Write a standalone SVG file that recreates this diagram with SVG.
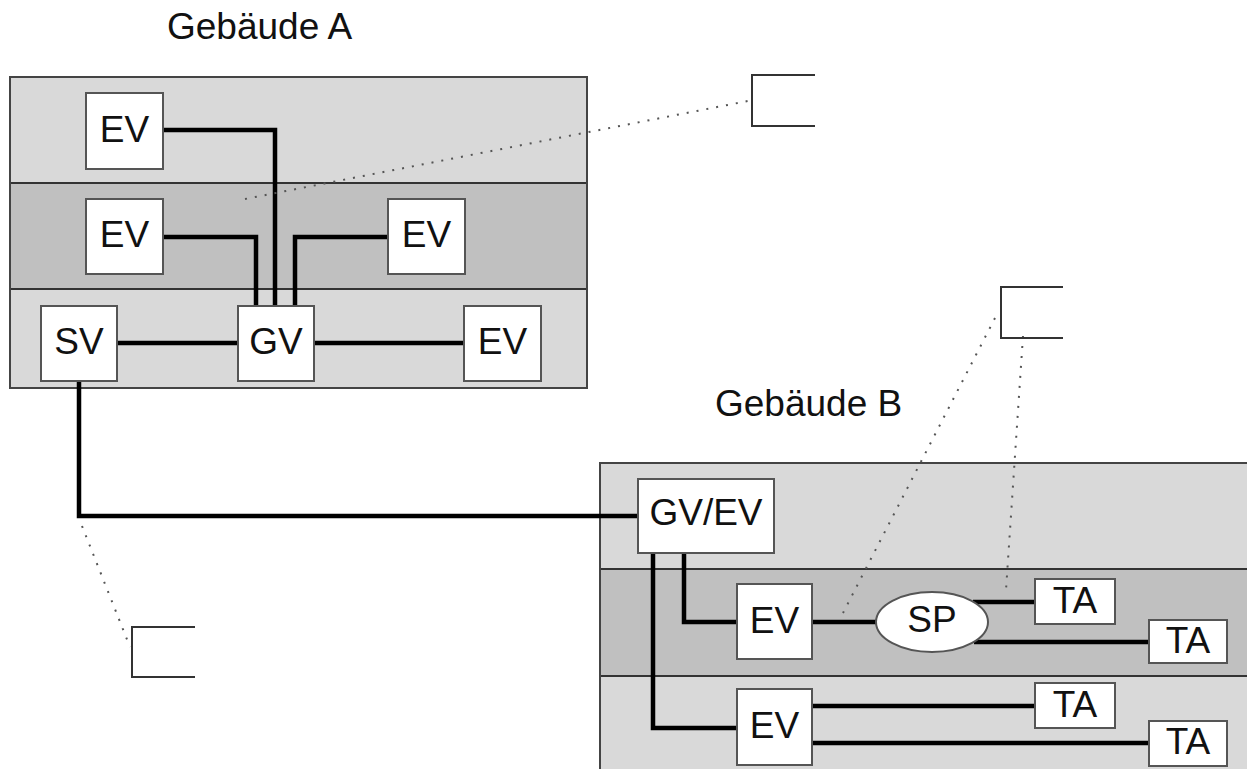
<svg xmlns="http://www.w3.org/2000/svg" width="1248" height="769" viewBox="0 0 1248 769">
<style>
.bl{fill:#d9d9d9;stroke:none}
.bd{fill:#c0c0c0;stroke:none}
.frame{fill:none;stroke:#444;stroke-width:2}
.sep{stroke:#333;stroke-width:2}
.node rect,.node ellipse{fill:#fff;stroke:#555;stroke-width:2}
.node text,.title{font-family:"Liberation Sans",Arial,sans-serif;font-size:37px;fill:#111;text-anchor:middle}
.title{text-anchor:start}
.wire{fill:none;stroke:#000;stroke-width:4.5;stroke-linejoin:miter}
.dot{fill:none;stroke:#555;stroke-width:2;stroke-dasharray:2 8}
.brk{fill:none;stroke:#333;stroke-width:2}
</style>
<rect width="1248" height="769" fill="#fff"/>
<g id="building-a">
<rect class="bl" x="10" y="77" width="577" height="106"/>
<rect class="bd" x="10" y="183" width="577" height="106"/>
<rect class="bl" x="10" y="289" width="577" height="99"/>
<line class="sep" x1="10" y1="183" x2="587" y2="183"/>
<line class="sep" x1="10" y1="289" x2="587" y2="289"/>
<rect class="frame" x="10" y="77" width="577" height="311"/>
<text class="title" x="167" y="39">Gebäude A</text>
</g>
<g id="building-b">
<rect class="bl" x="600" y="463" width="647" height="106"/>
<rect class="bd" x="600" y="569" width="647" height="107"/>
<rect class="bl" x="600" y="676" width="647" height="93"/>
<line class="sep" x1="600" y1="569" x2="1247" y2="569"/>
<line class="sep" x1="600" y1="676" x2="1247" y2="676"/>
<path class="frame" d="M600 770 V463 H1247"/>
<text class="title" x="715" y="416">Gebäude B</text>
</g>
<g id="connectors">
<path class="wire" d="M163 130 H275 V306"/>
<path class="wire" d="M163 237 H256 V306"/>
<path class="wire" d="M388 237 H295 V306"/>
<path class="wire" d="M117 343 H238"/>
<path class="wire" d="M314 343 H464"/>
<path class="wire" d="M79 381 V516 H638"/>
<path class="wire" d="M684 553 V622 H737"/>
<path class="wire" d="M653 553 V728 H737"/>
<path class="wire" d="M812 622 H876"/>
<path class="wire" d="M973 602 H1035"/>
<path class="wire" d="M974 642 H1149"/>
<path class="wire" d="M812 706 H1035"/>
<path class="wire" d="M812 743 H1149"/>
<path class="dot" d="M245 199 L748 101"/>
<path class="dot" d="M82 526 L130 647"/>
<path class="dot" d="M995 318 L843 613"/>
<path class="dot" d="M1023 336 L1006 590"/>
</g>
<g id="brackets">
<path class="brk" d="M815 75 H752 V126 H815"/>
<path class="brk" d="M1063 287 H1001 V338 H1063"/>
<path class="brk" d="M195 627 H132 V677 H195"/>
</g>
<g id="ev-a1" class="node"><rect x="86" y="93" width="77" height="76"/><text x="124.5" y="142">EV</text></g>
<g id="ev-a2" class="node"><rect x="86" y="199" width="77" height="75"/><text x="124.5" y="247">EV</text></g>
<g id="ev-a3" class="node"><rect x="388" y="199" width="77" height="75"/><text x="426.5" y="247">EV</text></g>
<g id="sv" class="node"><rect x="41" y="306" width="76" height="75"/><text x="79" y="354">SV</text></g>
<g id="gv" class="node"><rect x="238" y="306" width="76" height="75"/><text x="276" y="354">GV</text></g>
<g id="ev-a4" class="node"><rect x="464" y="306" width="77" height="75"/><text x="502.5" y="354">EV</text></g>
<g id="gv-ev" class="node"><rect x="638" y="479" width="136" height="74"/><text x="706" y="525">GV/EV</text></g>
<g id="ev-b1" class="node"><rect x="737" y="584" width="75" height="75"/><text x="774.5" y="633">EV</text></g>
<g id="ev-b2" class="node"><rect x="737" y="689" width="75" height="76"/><text x="774.5" y="738">EV</text></g>
<g id="sp" class="node"><ellipse cx="932" cy="622" rx="56" ry="30"/><text x="932" y="632">SP</text></g>
<g id="ta1" class="node"><rect x="1035" y="579" width="80" height="45"/><text x="1075" y="613">TA</text></g>
<g id="ta2" class="node"><rect x="1149" y="620" width="78" height="43"/><text x="1188" y="653">TA</text></g>
<g id="ta3" class="node"><rect x="1035" y="683" width="80" height="45"/><text x="1075" y="717">TA</text></g>
<g id="ta4" class="node"><rect x="1149" y="721" width="78" height="45"/><text x="1188" y="754">TA</text></g>
</svg>
